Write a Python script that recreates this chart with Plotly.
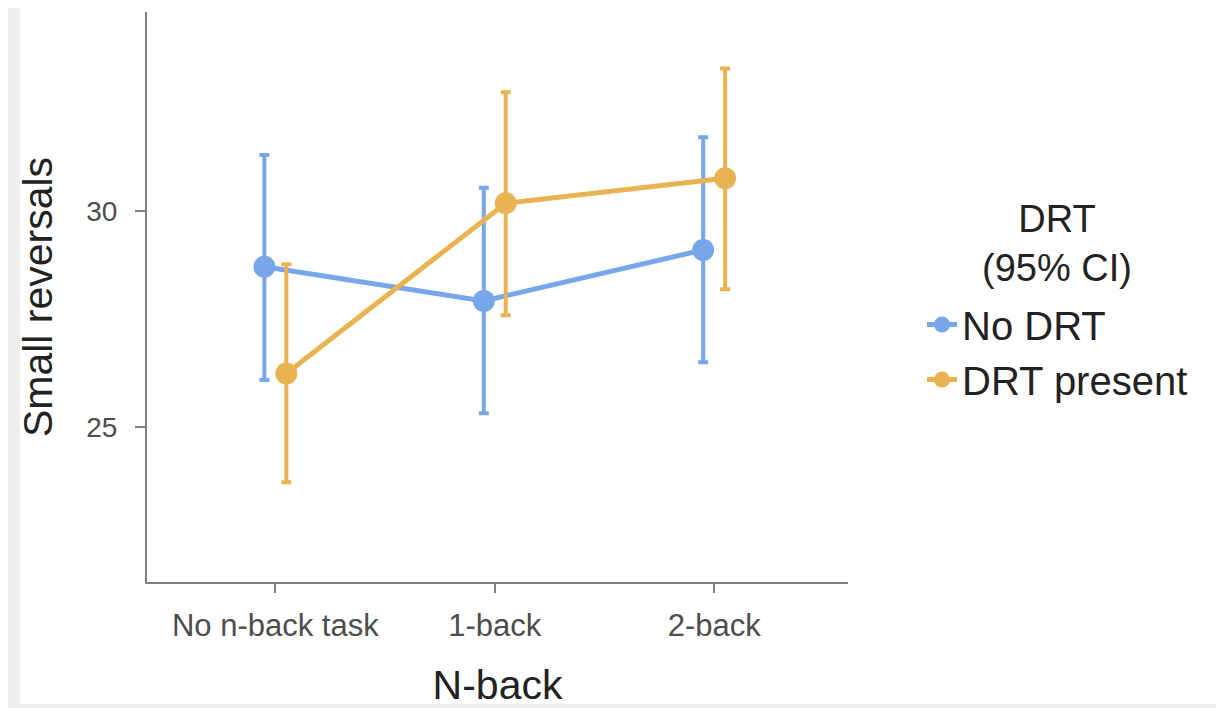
import plotly.graph_objects as go

categories = ["No n-back task", "1-back", "2-back"]
groups = ["No DRT", "DRT present"]

no_drt_mean = [28.71, 27.92, 29.10]
no_drt_low = [26.09, 25.32, 26.50]
no_drt_high = [31.30, 30.54, 31.71]

drt_mean = [26.24, 30.18, 30.76]
drt_low = [23.72, 27.59, 28.19]
drt_high = [28.77, 32.75, 33.30]

y_ticks = [25, 30]

colors = ["#78A6EA", "#E8B350"]
dodge = [-0.05, 0.05]

series = [
    (no_drt_mean, no_drt_low, no_drt_high),
    (drt_mean, drt_low, drt_high),
]

fig = go.Figure()
for i, (name, (m, lo, hi)) in enumerate(zip(groups, series)):
    xs = [k + dodge[i] for k in range(len(categories))]
    fig.add_trace(go.Scatter(
        x=xs, y=m, name=name, mode="lines+markers",
        line=dict(color=colors[i], width=5),
        marker=dict(color=colors[i], size=22),
        error_y=dict(type="data", symmetric=False,
                     array=[h - v for h, v in zip(hi, m)],
                     arrayminus=[v - l for v, l in zip(m, lo)],
                     color=colors[i], thickness=4, width=5),
    ))

# page is offset by 8px; figure coordinates below
W, H = 1216, 700
L, R, T, B = 139, 376, 4, 126
pw, ph = W - L - R, H - T - B
bottom_y = H - B  # fig y of x axis


def px_x(x):
    return (x - L) / pw


def px_y(y):
    return (bottom_y - y) / ph


fig.add_shape(type="rect", xref="paper", yref="paper",
              x0=px_x(12), x1=px_x(1213),
              y0=px_y(696), y1=px_y(-10),
              fillcolor="white", line=dict(width=0), layer="below")

fig.add_annotation(xref="paper", yref="paper",
                   x=px_x(1049), y=px_y(235), xanchor="center", yanchor="middle",
                   text="DRT<br>(95% CI)", showarrow=False, align="center",
                   font=dict(size=38, color="#222222"))

font_family = "Liberation Sans, Arial, sans-serif"

fig.update_layout(
    width=W, height=H,
    margin=dict(l=L, r=R, t=T, b=B),
    paper_bgcolor="#eeeeee",
    plot_bgcolor="white",
    font=dict(family=font_family, color="#222222"),
    showlegend=True,
    legend=dict(
        x=px_x(914), xanchor="left",
        y=px_y(284), yanchor="top",
        bgcolor="rgba(0,0,0,0)",
        font=dict(size=40, color="#222222"),
        tracegroupgap=0,
    ),
    xaxis=dict(
        range=[-0.585, 2.61],
        tickmode="array", tickvals=list(range(len(categories))), ticktext=categories,
        showline=True, linecolor="#808080", linewidth=2,
        ticks="outside", ticklen=9, tickwidth=2, tickcolor="#808080",
        ticklabelstandoff=6,
        tickfont=dict(size=31, color="#4d4d4d"),
        showgrid=False, zeroline=False,
        title=dict(text="N-back", font=dict(size=41, color="#222222"), standoff=28),
    ),
    yaxis=dict(
        range=[21.41, 34.61],
        tickmode="array", tickvals=y_ticks,
        showline=True, linecolor="#808080", linewidth=2,
        ticks="outside", ticklen=10, tickwidth=2, tickcolor="#808080",
        ticklabelstandoff=12,
        tickfont=dict(size=28, color="#4d4d4d"),
        showgrid=False, zeroline=False,
        title=dict(text="Small reversals", font=dict(size=41, color="#222222"), standoff=21),
    ),
)

fig.write_html("out.html")
